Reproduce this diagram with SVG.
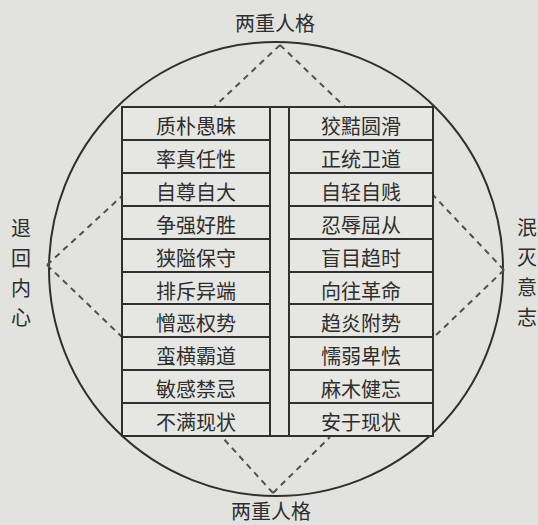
<svg xmlns="http://www.w3.org/2000/svg" width="538" height="525" viewBox="0 0 538 525">
<style>
.bg{fill:#e2e2df}
.ln{fill:none;stroke:#303030;stroke-width:2}
.dash{fill:none;stroke:#505050;stroke-width:2;stroke-dasharray:6 5}
.cell{fill:#e6e6e3;stroke:#303030;stroke-width:2}
text{font-family:"Noto Sans CJK SC","Noto Sans",sans-serif;fill:#2e2e2e;font-size:20px;text-anchor:middle;dominant-baseline:central}
</style>
<rect class="bg" x="0" y="0" width="538" height="525"/>
<g id="circle"><circle class="ln" cx="276" cy="269" r="227"/></g>
<g id="connectors">
<line class="dash" x1="280" y1="45" x2="214" y2="107"/>
<line class="dash" x1="280" y1="45" x2="345" y2="107"/>
<line class="dash" x1="47" y1="265" x2="122" y2="196"/>
<line class="dash" x1="47" y1="265" x2="122" y2="337"/>
<line class="dash" x1="504" y1="270" x2="433" y2="195"/>
<line class="dash" x1="504" y1="270" x2="433" y2="338"/>
<line class="dash" x1="273" y1="493" x2="222" y2="437"/>
<line class="dash" x1="273" y1="493" x2="330" y2="437"/>
</g>
<g id="table">
<rect class="cell" x="122" y="107" width="311" height="329"/>
<line class="ln" x1="270" y1="107" x2="270" y2="436"/>
<line class="ln" x1="289" y1="107" x2="289" y2="436"/>
<path class="ln" d="M122 140H270M122 173H270M122 206H270M122 239H270M122 272H270M122 304H270M122 337H270M122 370H270M122 403H270"/>
<path class="ln" d="M289 140H433M289 173H433M289 206H433M289 239H433M289 272H433M289 304H433M289 337H433M289 370H433M289 403H433"/>
</g>
<g id="left-column">
<text x="196" y="125">质朴愚昧</text>
<text x="196" y="158">率真任性</text>
<text x="196" y="191">自尊自大</text>
<text x="196" y="224">争强好胜</text>
<text x="196" y="257">狭隘保守</text>
<text x="196" y="290">排斥异端</text>
<text x="196" y="322">憎恶权势</text>
<text x="196" y="355">蛮横霸道</text>
<text x="196" y="388">敏感禁忌</text>
<text x="196" y="421">不满现状</text>
</g>
<g id="right-column">
<text x="361" y="125">狡黠圆滑</text>
<text x="361" y="158">正统卫道</text>
<text x="361" y="191">自轻自贱</text>
<text x="361" y="224">忍辱屈从</text>
<text x="361" y="257">盲目趋时</text>
<text x="361" y="290">向往革命</text>
<text x="361" y="322">趋炎附势</text>
<text x="361" y="355">懦弱卑怯</text>
<text x="361" y="388">麻木健忘</text>
<text x="361" y="421">安于现状</text>
</g>
<g id="label-top"><text x="275" y="22">两重人格</text></g>
<g id="label-bottom"><text x="271" y="510">两重人格</text></g>
<g id="label-left">
<text x="21" y="227">退</text>
<text x="21" y="257">回</text>
<text x="21" y="287">内</text>
<text x="21" y="316">心</text>
</g>
<g id="label-right">
<text x="527" y="226">泯</text>
<text x="527" y="256">灭</text>
<text x="527" y="286">意</text>
<text x="527" y="316">志</text>
</g>
</svg>
